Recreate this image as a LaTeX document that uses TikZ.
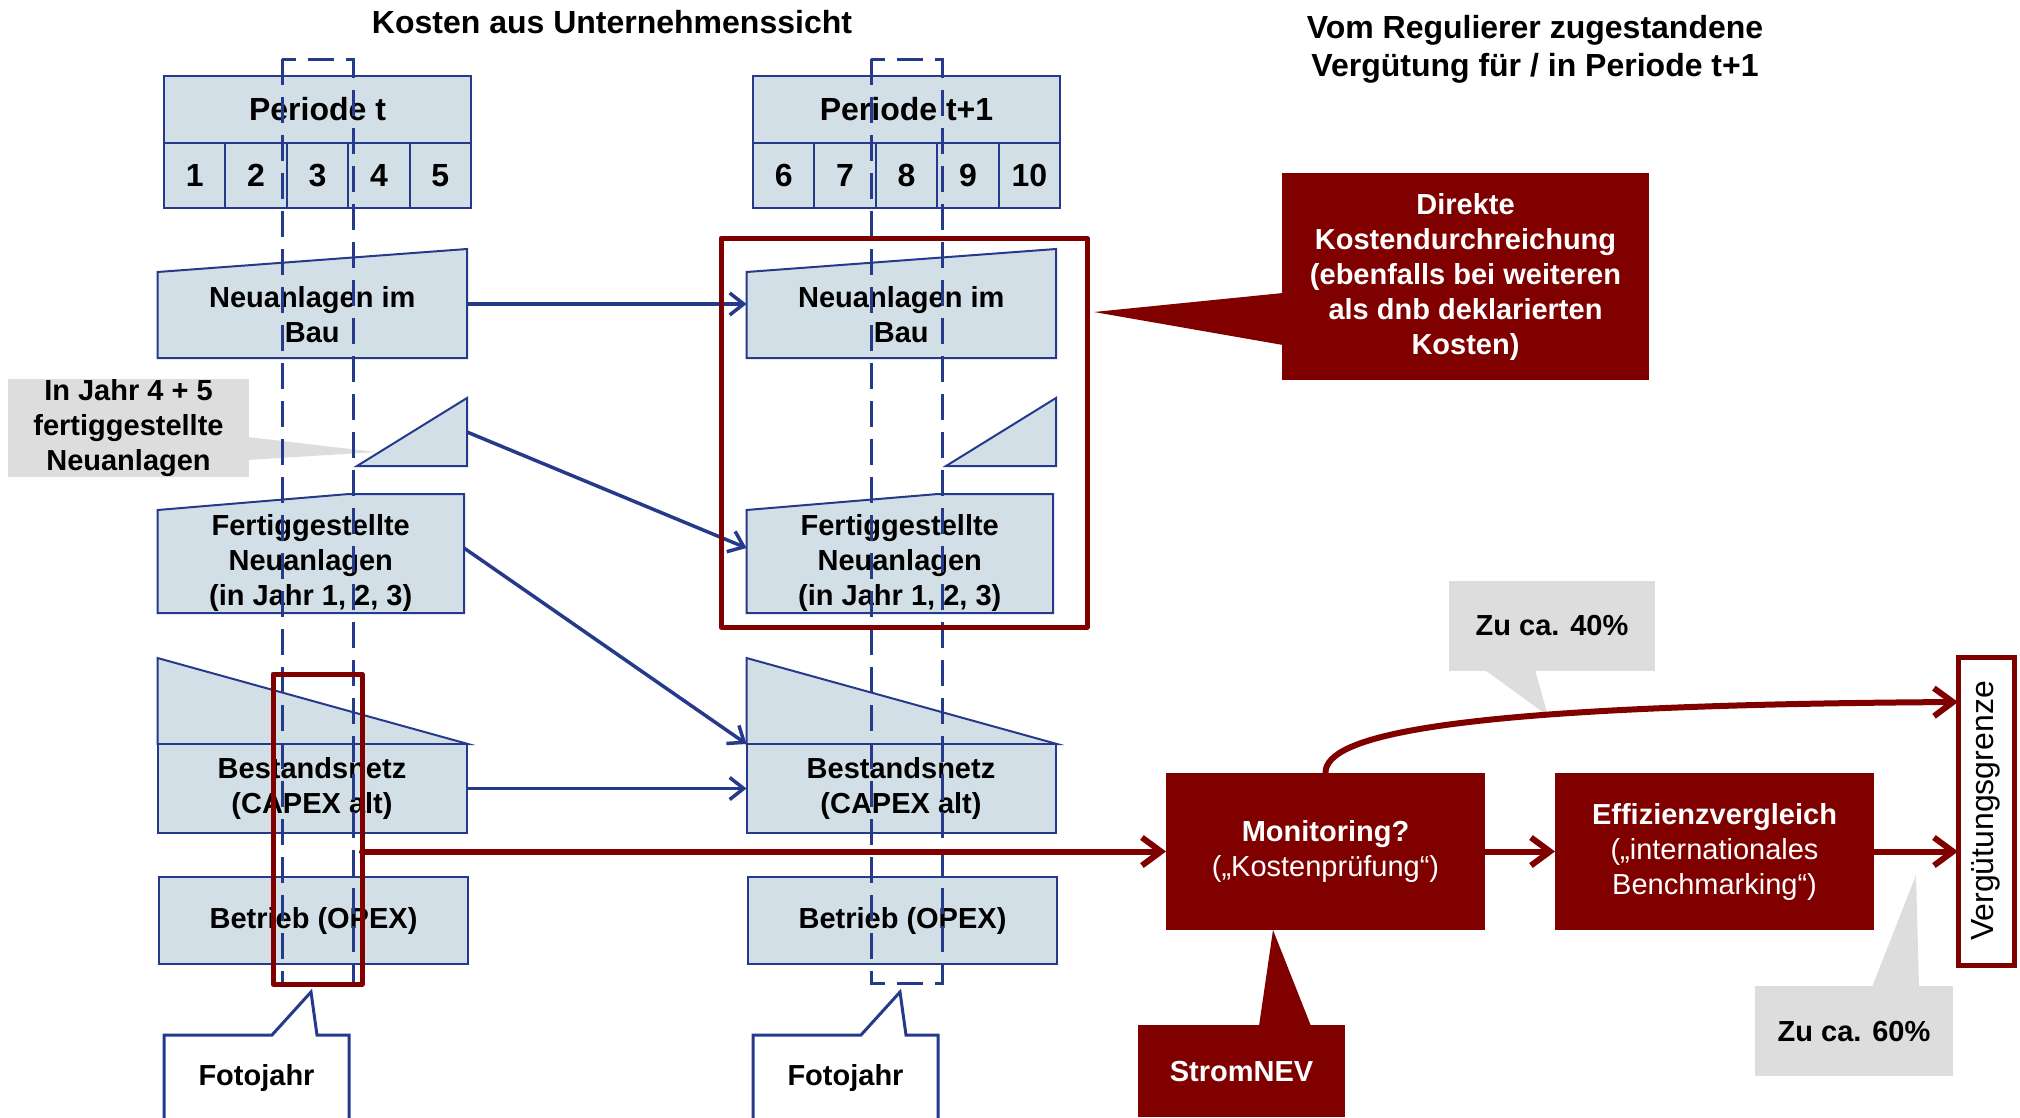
\documentclass[tikz,border=0pt]{standalone}
\usepackage{fontspec}
\setmainfont{Liberation Sans}
\usetikzlibrary{calc,arrows.meta}

\definecolor{netzblau}{RGB}{38,58,140}
\definecolor{netzgrau}{RGB}{211,223,230}
\definecolor{dunkelrot}{RGB}{128,0,0}
\definecolor{hellgrau}{RGB}{221,221,221}

\begin{document}
\begin{tikzpicture}[x=1pt, y=-1pt,
        font=\fontsize{29}{35}\selectfont\bfseries,
        every node/.style={inner sep=0pt, outer sep=0pt, align=center},
        gross/.style={font=\fontsize{32}{38}\selectfont\bfseries},
        blk/.style={fill=netzgrau, draw=netzblau, line width=2pt},
        blkbox/.style={blk, rectangle},
        txt/.style={rectangle},
        rotbox/.style={fill=dunkelrot, text=white, rectangle},
        graubox/.style={fill=hellgrau, rectangle},
        fotolinie/.style={draw=netzblau, line width=3pt, line join=miter},
        rahmen/.style={draw=dunkelrot, line width=5pt, line join=round},
        blaupfeil/.style={draw=netzblau, line width=3.5pt, -{Straight Barb[length=14pt, width=22pt]}},
        rotpfeil/.style={draw=dunkelrot, line width=6pt, line cap=round, -{Straight Barb[length=19pt, width=28pt]}},
        jahrlinie/.style={draw=netzblau, line width=3pt, dash pattern=on 26pt off 12pt}]
        \useasboundingbox (0,0) rectangle (2020,1117);
        \clip (0,0) rectangle (2020,1117);

        \node (kosten) [gross] at (612,22) {Kosten aus Unternehmenssicht};
        \node (verguetung) [gross] at (1535,49) {Vom Regulierer zugestandene\\Vergütung für / in Periode t+1};

        \node (info) [graubox, minimum width=241pt, minimum height=98pt] at (128.5,428) {In Jahr 4 + 5\\fertiggestellte\\Neuanlagen};
        \fill [hellgrau] (248,437) -- (376,452) -- (248,460) -- cycle;

        \foreach \dx/\p/\per/\n in {0/a/t/0, 589/b/t+1/5} {
            \node (per\p) [blkbox, gross, minimum width=307pt, minimum height=67pt] at (317.5+\dx,109.5) {Periode \per};
            \foreach \i in {1,...,5} {
                \pgfmathtruncatemacro{\nr}{\i+\n}
                \node (jahr\nr) [blkbox, gross, minimum width=61.4pt, minimum height=65pt] at (133.3+61.4*\i+\dx,175.5) {\nr};
            }

            \filldraw [blk] (157.5+\dx,272) -- (467+\dx,249) -- (467+\dx,358) -- (157.5+\dx,358) -- cycle;
            \node (bau\p) [txt, minimum width=309.5pt, minimum height=86pt] at (312.25+\dx,315) {Neuanlagen im\\Bau};

            \filldraw [blk] (357+\dx,466) -- (467+\dx,398) -- (467+\dx,466) -- cycle;
            \node (neu\p) [txt, minimum width=110pt, minimum height=68pt] at (412+\dx,432) {};

            \filldraw [blk] (157.5+\dx,510) -- (349+\dx,494) -- (464+\dx,494) -- (464+\dx,613) -- (157.5+\dx,613) -- cycle;
            \node (fert\p) [txt, minimum width=306.5pt, minimum height=100pt] at (310.75+\dx,563) {Fertiggestellte\\Neuanlagen\\(in Jahr 1, 2, 3)};

            \filldraw [blk] (157.5+\dx,658) -- (468+\dx,744) -- (157.5+\dx,744) -- cycle;
            \node (best\p) [blkbox, minimum width=309pt, minimum height=89pt] at (312+\dx,788.5) {Bestandsnetz\\(CAPEX alt)};

            \node (opex\p) [blkbox, minimum width=309pt, minimum height=87pt] at (313.5+\dx,920.5) {Betrieb (OPEX)};

            \node (foto\p) [fill=white, minimum width=185pt, minimum height=86pt] at (256.5+\dx,1078) {Fotojahr};
            \draw [fotolinie] (164+\dx,1125) -- (164+\dx,1035) -- (272+\dx,1035) -- (311+\dx,992)
                -- (317+\dx,1035) -- (349+\dx,1035) -- (349+\dx,1125);

            \draw [jahrlinie] (282+\dx,59) rectangle (353+\dx,983);
        }

        \draw [blaupfeil] ($(baua.east)+(0,-11)$) -- ($(baub.west)+(0,-11)$);
        \draw [blaupfeil] (neua.east) -- ($(fertb.west)+(0,-15)$);
        \draw [blaupfeil] ($(ferta.east)+(0,-15)$) -- (bestb.north west);
        \draw [blaupfeil] (besta.east) -- (bestb.west);

        \node (wahl) [rahmen, minimum width=89pt, minimum height=310pt] at (317.5,829) {};
        \node (durch) [rahmen, minimum width=366pt, minimum height=389pt] at (904,432.5) {};

        \node (direkt) [rotbox, minimum width=367pt, minimum height=207pt] at (1465.5,276.5) {Direkte\\Kostendurchreichung\\(ebenfalls bei weiteren\\als dnb deklarierten\\Kosten)};
        \fill [dunkelrot] (1283,293) -- (1094,312) -- (1283,345) -- cycle;

        \node (mon) [rotbox, minimum width=319pt, minimum height=157pt] at (1325.5,851.5) {Monitoring?\\{\mdseries(„Kostenprüfung“)}};
        \node (eff) [rotbox, minimum width=319pt, minimum height=157pt] at (1714.5,851.5) {Effizienzvergleich\\{\mdseries(„internationales}\\{\mdseries Benchmarking“)}};

        \node (grenze) [fill=white, draw=dunkelrot, line width=5pt, minimum width=56pt, minimum height=308pt] at (1986,811) {};
        \node (grenztext) [gross, rotate=90] at (grenze) {\mdseries Vergütungsgrenze};

        \node (nev) [rotbox, minimum width=207pt, minimum height=92pt] at (1241.5,1071) {StromNEV};
        \fill [dunkelrot] (1259,1026) -- (1273,930) -- (1311,1026) -- cycle;

        \node (p40) [graubox, minimum width=206pt, minimum height=90pt] at (1552,626) {Zu ca. 40\%};
        \fill [hellgrau] (1485,670) -- (1548,716) -- (1535,670) -- cycle;
        \node (p60) [graubox, minimum width=198pt, minimum height=90pt] at (1854,1031) {Zu ca. 60\%};
        \fill [hellgrau] (1872,987) -- (1916,875) -- (1919,987) -- cycle;

        \draw [rotpfeil] (wahl.east |- mon.west) -- (mon.west);
        \draw [rotpfeil] (mon.east) -- (eff.west);
        \draw [rotpfeil] (eff.east) -- (eff.east -| grenze.west);
        \draw [rotpfeil] (mon.north) .. controls (1325,735) and (1450,705) .. ($(grenze.north west)+(0,45)$);
    \end{tikzpicture}
\end{document}
